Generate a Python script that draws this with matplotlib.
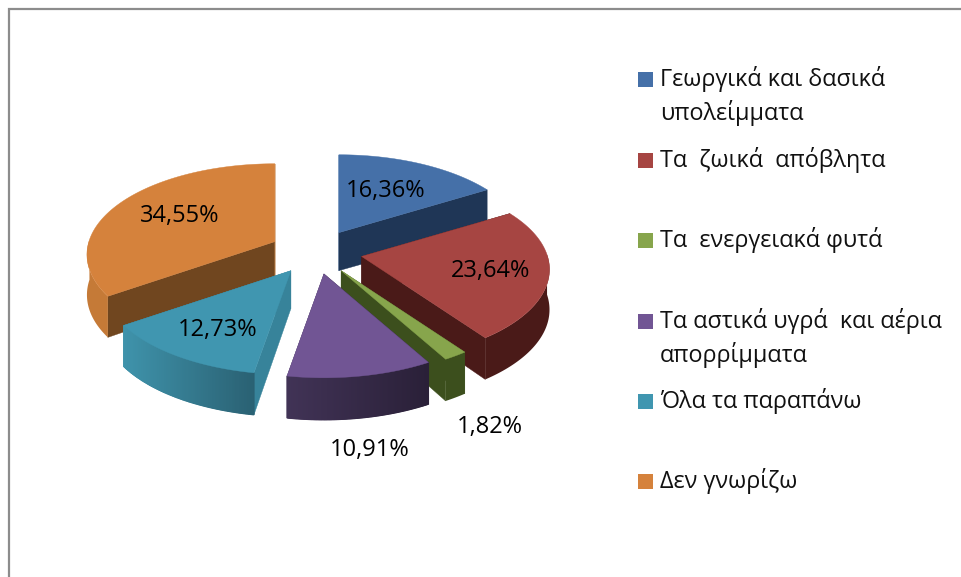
import numpy as np
import matplotlib
matplotlib.use('Agg')
import matplotlib.pyplot as plt
from matplotlib.colors import to_rgb
from matplotlib.patches import Polygon, Rectangle

plt.rcParams['font.family'] = ['Open Sans', 'DejaVu Sans']

categories = ['Γεωργικά και δασικά\nυπολείμματα', 'Τα  ζωικά  απόβλητα', 'Τα  ενεργειακά φυτά',
              'Τα αστικά υγρά  και αέρια\nαπορρίμματα', 'Όλα τα παραπάνω', 'Δεν γνωρίζω']
values = [16.36, 23.64, 1.82, 10.91, 12.73, 34.55]

top_colors = ['#4570A8', '#A64542', '#87A54C', '#715594', '#4096B0', '#D5823C']
rim_left = ['#1F3656', '#4A1A18', '#3C4F1D', '#413356', '#3F93AB', '#C57A37']
rim_right = ['#1F3656', '#4A1A18', '#3C4F1D', '#2A2038', '#2A6173', '#C57A37']
cut_start = ['#4570A8', '#4A1A18', '#3C4F1D', '#2A2038', '#37839A', '#70461F']
cut_end = ['#1F3656', '#4A1A18', '#3C4F1D', '#413356', '#37839A', '#B8702E']

label_pos = [(386, 191), (491, 271), (490, 427), (370, 450), (218, 330), (180, 216)]
legend_y = [72, 153, 233, 314, 394, 474]

# pie geometry in pixels, the disc is tilted with a little perspective
cx, cy = 316, 252
rx, ry = 186, 89
persp = 0.143
explode = 0.25
draw_order = [0, 5, 1, 2, 4, 3]


def rim_point(theta):
    u, v = np.sin(theta), np.cos(theta)
    s = 1 / (1 + persp * v)
    return rx * u * s, -ry * v * s


def rim_depth(theta):
    return 40 - 2 * np.cos(theta)


fig = plt.figure(figsize=(9.61, 5.77), dpi=100)
ax = fig.add_axes([0, 0, 1, 1])
ax.set_xlim(0, 961)
ax.set_ylim(577, 0)
ax.axis('off')

# chart border, only the left and top edges are in the crop
ax.plot([8.5, 8.5, 961], [577, 8.5, 8.5], color='#8C8C8C', lw=1.6, solid_joinstyle='miter')

edges = np.cumsum([0] + values) / sum(values) * 2 * np.pi

for i in draw_order:
    a0, a1 = edges[i], edges[i + 1]
    mid = (a0 + a1) / 2
    ax0 = cx + rx * explode * np.sin(mid)
    ay0 = cy - ry * explode * np.cos(mid)
    theta = np.linspace(a0, a1, 120)
    px, py = rim_point(theta)
    px, py = px + ax0, py + ay0
    d = rim_depth(theta)

    for col, k in [(cut_start[i], 0), (cut_end[i], -1)]:
        poly = [(ax0, ay0), (px[k], py[k]), (px[k], py[k] + d[k]), (ax0, ay0 + 38)]
        ax.add_patch(Polygon(poly, closed=True, fc=col, ec=col, lw=0.3))

    # outer wall: flat base first, then thin strips that shade it from left to right
    left, right = np.array(to_rgb(rim_left[i])), np.array(to_rgb(rim_right[i]))
    front = np.cos(theta) <= 0.03
    if front.any():
        xs, ys, ds = px[front], py[front], d[front]
        base = list(zip(xs, ys)) + list(zip(xs[::-1], (ys + ds)[::-1]))
        ax.add_patch(Polygon(base, closed=True, fc=tuple((left + right) / 2), ec='none'))
        if rim_left[i] != rim_right[i]:
            for j in range(len(xs) - 1):
                t = (xs[j] - xs.min()) / (xs.max() - xs.min())
                col = tuple(left * (1 - t) + right * t)
                poly = [(xs[j], ys[j]), (xs[j + 1], ys[j + 1]),
                        (xs[j + 1], ys[j + 1] + ds[j + 1]), (xs[j], ys[j] + ds[j])]
                ax.add_patch(Polygon(poly, closed=True, fc=col, ec=col, lw=0.9))

    top = [(ax0, ay0)] + list(zip(px, py))
    ax.add_patch(Polygon(top, closed=True, fc=top_colors[i], ec=top_colors[i], lw=0.3))

for v, (x, y) in zip(values, label_pos):
    ax.text(x, y, f'{v:.2f}'.replace('.', ',') + '%', ha='center', va='center',
            fontsize=17, color='black')

for cat, col, y in zip(categories, top_colors, legend_y):
    ax.add_patch(Rectangle((638, y), 15, 15, fc=col, ec='none'))
    ax.text(660, y - 6, cat, ha='left', va='top', fontsize=16.8, color='#111111', linespacing=1.42)

fig.savefig('out.png', dpi=100)
